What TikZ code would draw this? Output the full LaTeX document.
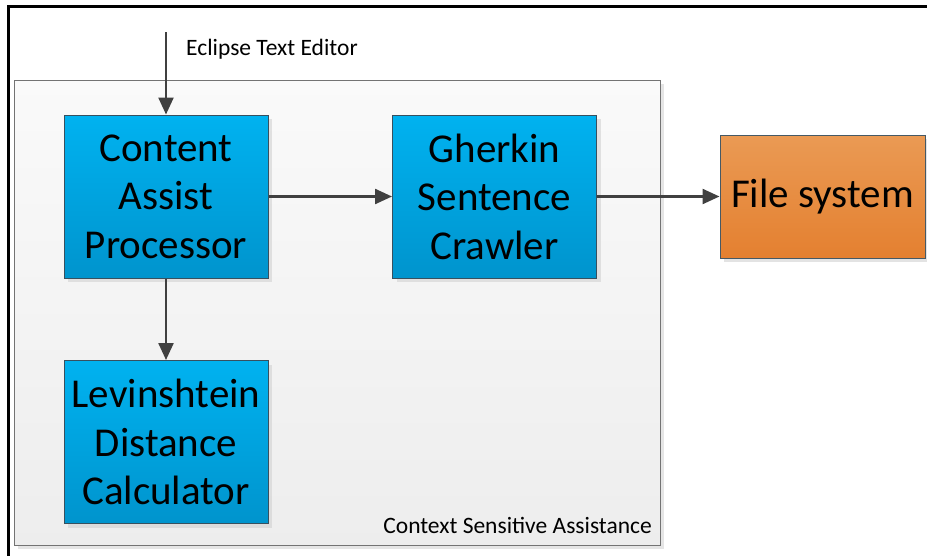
\documentclass[tikz,border=0pt]{standalone}
\usepackage{fontspec}
\setmainfont{Carlito}
\usetikzlibrary{arrows.meta,shadows}
\definecolor{arrowgray}{RGB}{64,64,64}
\definecolor{boxedge}{RGB}{55,80,95}
\definecolor{bluetop}{RGB}{0,178,240}
\definecolor{bluebot}{RGB}{0,148,205}
\definecolor{orangetop}{RGB}{234,154,84}
\definecolor{orangebot}{RGB}{228,128,48}
\tikzset{
  blockbox/.style={draw=boxedge, line width=1pt, top color=bluetop, bottom color=bluebot,
    minimum width=204pt, minimum height=163pt, align=center, inner sep=0pt,
    font=\fontsize{41}{48.5}\selectfont,
    drop shadow={shadow xshift=4pt, shadow yshift=-4pt, fill=black!18, opacity=0.6}},
  storebox/.style={draw=boxedge!80!gray, line width=1pt, top color=orangetop, bottom color=orangebot,
    minimum width=205pt, minimum height=123pt, align=center, inner sep=0pt,
    font=\fontsize{41}{48}\selectfont,
    drop shadow={shadow xshift=4pt, shadow yshift=-4pt, fill=black!18, opacity=0.6}},
  flow/.style={draw=arrowgray, line width=2.4pt, -{Triangle[length=17pt,width=15pt]}},
  smalltext/.style={font=\fontsize{23.5}{28}\selectfont, inner sep=0pt}
}
\begin{document}
\begin{tikzpicture}[x=1pt,y=-1pt]
  \useasboundingbox (0,0) rectangle (927,555);
  % outer frame (top and left edges)
  \draw[line width=3pt] (8,556) -- (8,6) -- (928,6);
  % context sensitive assistance container
  \fill[black!10] (18,84) rectangle (664,549);
  \draw[draw=black!55, line width=1pt, top color=white!98!black, bottom color=white!93!black]
    (14,80) rectangle (660,545);
  \node[smalltext, anchor=south east] (csalabel) at (652,534) {Context Sensitive Assistance};

  % blocks
  \node[blockbox] (cap) at (166,196.5) {Content\\Assist\\Processor};
  \node[blockbox] (gsc) at (494.5,196.5) {Gherkin\\Sentence\\Crawler};
  \node[blockbox] (ldc) at (166,442) {Levinshtein\\Distance\\Calculator};
  \node[storebox] (fs) at (822.5,196.5) {File system};

  % editor input
  \coordinate (editor) at (166,32);
  \node[smalltext, anchor=west] (editorlabel) at (186,49) {Eclipse Text Editor};

  % connectors
  \draw[flow] (editor) -- (cap.north);
  \draw[flow] (cap.east) -- (gsc.west);
  \draw[flow] (gsc.east) -- (fs.west);
  \draw[flow] (cap.south) -- (ldc.north);
\end{tikzpicture}
\end{document}
